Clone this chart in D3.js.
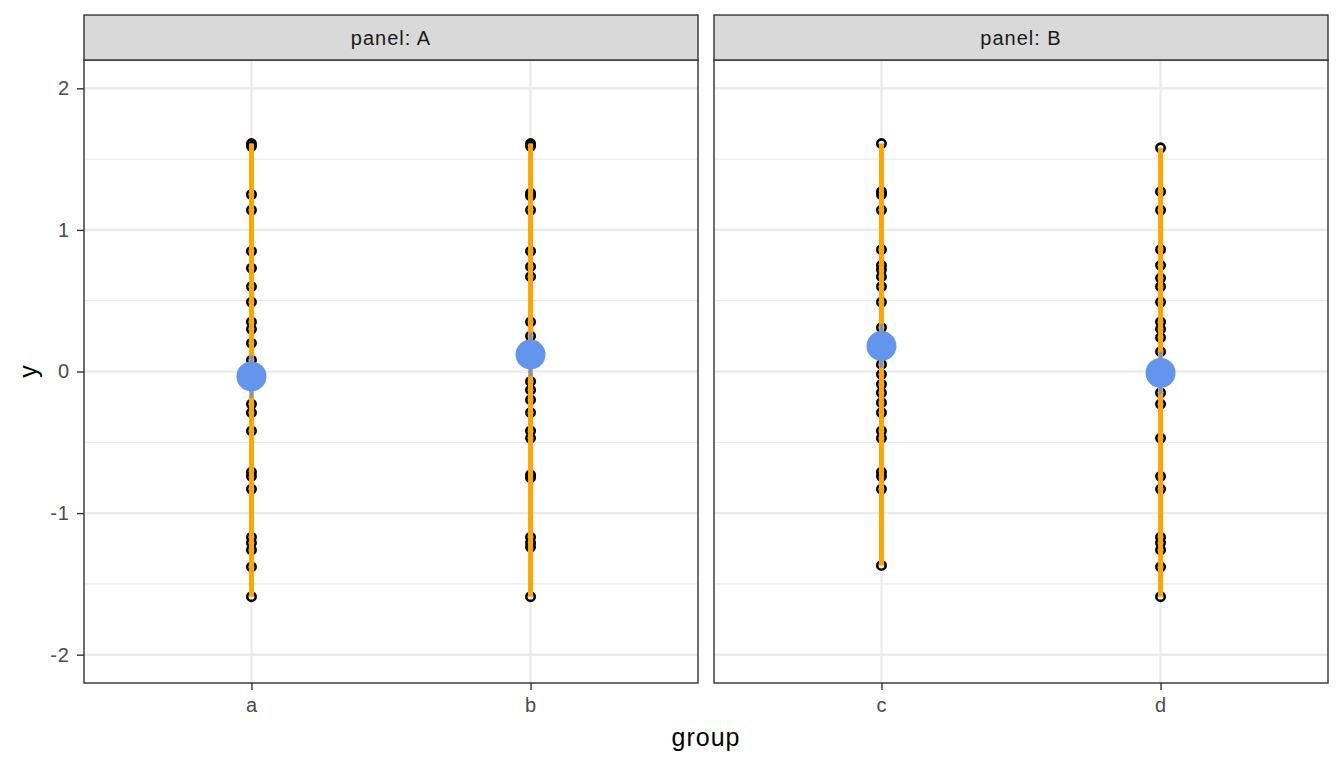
<!DOCTYPE html>
<html>
<head>
<meta charset="utf-8">
<script src="https://cdn.jsdelivr.net/npm/d3@7"></script>
<style>
  body { margin: 0; background: #fff; }
  text { font-family: "Liberation Sans", Arial, sans-serif; }
</style>
</head>
<body>
<svg id="chart"></svg>
<script>
// data
var panels = ["A", "B"];
var groups = { A: ["a", "b"], B: ["c", "d"] };

var y_a = [1.61, 1.59, 1.25, 1.14, 0.85, 0.73, 0.60, 0.49, 0.35, 0.30, 0.20, 0.08, 0.02,
           -0.10, -0.23, -0.29, -0.42, -0.71, -0.74, -0.83, -1.17, -1.21, -1.26, -1.38, -1.59];
var y_b = [1.61, 1.59, 1.26, 1.24, 1.14, 0.85, 0.74, 0.67, 0.35, 0.25, 0.15, 0.08,
           -0.07, -0.13, -0.20, -0.29, -0.42, -0.47, -0.73, -0.75, -1.17, -1.21, -1.24, -1.59];
var y_c = [1.61, 1.27, 1.25, 1.14, 0.86, 0.75, 0.72, 0.67, 0.60, 0.49, 0.31, 0.20, 0.05, -0.02,
           -0.09, -0.15, -0.22, -0.29, -0.42, -0.47, -0.71, -0.74, -0.83, -1.37];
var y_d = [1.58, 1.27, 1.14, 0.86, 0.75, 0.66, 0.60, 0.49, 0.35, 0.30, 0.24, 0.14, 0.05,
           -0.15, -0.23, -0.47, -0.74, -0.83, -1.17, -1.21, -1.26, -1.38, -1.59];
var values = { a: y_a, b: y_b, c: y_c, d: y_d };

// group means and standard errors (blue pointrange)
var means = { a: -0.035, b: 0.12, c: 0.18, d: -0.01 };
var ses   = { a: 0.15, b: 0.155, c: 0.155, d: 0.15 };

var yTicks = [-2, -1, 0, 1, 2];
var yMinor = [-1.5, -0.5, 0.5, 1.5];

var W = 1344, H = 768;
var margin = {top: 15, right: 16, bottom: 85, left: 84},
    stripH = 45,
    panelGap = 16,
    panelW = (W - margin.left - margin.right - panelGap) / 2,
    panelTop = margin.top + stripH,
    panelH = H - margin.bottom - panelTop;

var svg = d3.select("#chart")
    .attr("width", W)
    .attr("height", H);

var yScale = d3.scaleLinear()
    .domain([-2.2, 2.2])
    .range([panelTop + panelH, panelTop]);

function styleTicks(sel) {
    sel.select(".domain").remove();
    sel.selectAll("line").attr("stroke", "#333333").attr("stroke-width", 1.4);
    sel.selectAll("text")
        .attr("fill", "#4D4D4D")
        .style("font-size", "20px")
        .style("letter-spacing", "1px")
        .style("font-family", "Liberation Sans, Arial, sans-serif");
}

panels.forEach(function(p, i) {
    var x0 = margin.left + i * (panelW + panelGap);

    var xScale = d3.scalePoint()
        .domain(groups[p])
        .range([x0, x0 + panelW])
        .padding(0.6);

    var g = svg.append("g").attr("class", "panel");

    g.append("rect")
        .attr("x", x0).attr("y", panelTop)
        .attr("width", panelW).attr("height", panelH)
        .attr("fill", "#fff");

    // minor grid
    g.selectAll(".minor")
        .data(yMinor)
        .enter().append("line")
        .attr("x1", x0).attr("x2", x0 + panelW)
        .attr("y1", function(d) { return yScale(d); })
        .attr("y2", function(d) { return yScale(d); })
        .attr("stroke", "#EBEBEB")
        .attr("stroke-width", 1.2);

    // major grid
    g.selectAll(".major-y")
        .data(yTicks)
        .enter().append("line")
        .attr("x1", x0).attr("x2", x0 + panelW)
        .attr("y1", function(d) { return yScale(d); })
        .attr("y2", function(d) { return yScale(d); })
        .attr("stroke", "#EBEBEB")
        .attr("stroke-width", 2.4);

    g.selectAll(".major-x")
        .data(groups[p])
        .enter().append("line")
        .attr("x1", function(d) { return xScale(d); })
        .attr("x2", function(d) { return xScale(d); })
        .attr("y1", panelTop).attr("y2", panelTop + panelH)
        .attr("stroke", "#EBEBEB")
        .attr("stroke-width", 2.4);

    // raw points
    groups[p].forEach(function(k) {
        g.selectAll(".dot-" + k)
            .data(values[k])
            .enter().append("circle")
            .attr("cx", xScale(k))
            .attr("cy", function(d) { return yScale(d); })
            .attr("r", 4.2)
            .attr("fill", "none")
            .attr("stroke", "#000")
            .attr("stroke-width", 2.6);
    });

    // range line
    g.selectAll(".range")
        .data(groups[p])
        .enter().append("line")
        .attr("x1", function(d) { return xScale(d); })
        .attr("x2", function(d) { return xScale(d); })
        .attr("y1", function(d) { return yScale(d3.min(values[d])); })
        .attr("y2", function(d) { return yScale(d3.max(values[d])); })
        .attr("stroke", "#FFA500")
        .attr("stroke-width", 5);

    // mean +- se
    g.selectAll(".se")
        .data(groups[p])
        .enter().append("line")
        .attr("x1", function(d) { return xScale(d); })
        .attr("x2", function(d) { return xScale(d); })
        .attr("y1", function(d) { return yScale(means[d] - ses[d]); })
        .attr("y2", function(d) { return yScale(means[d] + ses[d]); })
        .attr("stroke", "#6495ED")
        .attr("stroke-width", 2.7);

    g.selectAll(".mean")
        .data(groups[p])
        .enter().append("circle")
        .attr("cx", function(d) { return xScale(d); })
        .attr("cy", function(d) { return yScale(means[d]); })
        .attr("r", 15)
        .attr("fill", "#6495ED");

    // panel border
    g.append("rect")
        .attr("x", x0).attr("y", panelTop)
        .attr("width", panelW).attr("height", panelH)
        .attr("fill", "none")
        .attr("stroke", "#333333")
        .attr("stroke-width", 1.4);

    // strip
    g.append("rect")
        .attr("x", x0).attr("y", margin.top)
        .attr("width", panelW).attr("height", stripH)
        .attr("fill", "#D9D9D9")
        .attr("stroke", "#333333")
        .attr("stroke-width", 1.4);

    g.append("text")
        .attr("x", x0 + panelW / 2)
        .attr("y", margin.top + stripH / 2)
        .attr("dy", "0.35em")
        .attr("text-anchor", "middle")
        .attr("fill", "#1A1A1A")
        .style("font-size", "20px")
        .style("letter-spacing", "1px")
        .text("panel: " + p);

    // x axis
    var xAxis = g.append("g")
        .attr("transform", "translate(0," + (panelTop + panelH) + ")")
        .call(d3.axisBottom(xScale).tickSize(7).tickPadding(8));
    styleTicks(xAxis);

    // y axis on first panel only
    if (i === 0) {
        var yAxis = g.append("g")
            .attr("transform", "translate(" + x0 + ",0)")
            .call(d3.axisLeft(yScale).tickValues(yTicks).tickSize(7).tickPadding(7)
                .tickFormat(function(d) { return d < 0 ? "-" + Math.abs(d) : d; }));
        styleTicks(yAxis);
    }
});

// axis titles
svg.append("text")
    .attr("x", margin.left + (W - margin.left - margin.right) / 2)
    .attr("y", 746)
    .attr("text-anchor", "middle")
    .attr("fill", "#000")
    .style("font-size", "25px")
    .style("letter-spacing", "1px")
    .text("group");

svg.append("text")
    .attr("transform", "translate(37," + (panelTop + panelH / 2) + ") rotate(-90)")
    .attr("text-anchor", "middle")
    .attr("fill", "#000")
    .style("font-size", "25px")
    .text("y");
</script>
</body>
</html>
